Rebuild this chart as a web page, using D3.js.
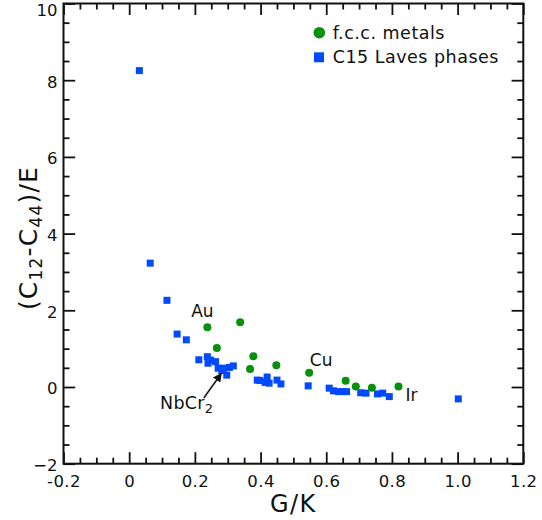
<!DOCTYPE html>
<html lang="en">
<head>
    <meta charset="UTF-8">
    <title>Elastic constants vs G/K</title>
    <script src="https://cdn.jsdelivr.net/npm/d3@7/dist/d3.min.js"></script>
    <style>
        body { margin: 0; background: #fff; }
        svg text { font-family: "DejaVu Sans", Verdana, sans-serif; fill: #111; }
        .axis line { stroke: #111; stroke-width: 1.8; }
    </style>
</head>
<body>
    <svg id="main" width="542" height="520"></svg>
    <script>
        // f.c.c. metals
        let fccGK    = [0.238, 0.338, 0.267, 0.378, 0.368, 0.448, 0.548, 0.659, 0.690, 0.739, 0.820];
        let fccRatio = [1.56, 1.69, 1.02, 0.80, 0.47, 0.57, 0.37, 0.16, 0.01, -0.02, 0.01];

        // C15 Laves phases
        let lavesGK = [0.031, 0.064, 0.115, 0.146, 0.174, 0.212, 0.238, 0.240, 0.248, 0.263,
                       0.271, 0.282, 0.287, 0.297, 0.305, 0.317, 0.390, 0.398, 0.414, 0.420,
                       0.426, 0.450, 0.462, 0.545, 0.609, 0.622, 0.637, 0.650, 0.662, 0.705,
                       0.721, 0.756, 0.772, 0.792, 1.002];
        let lavesRatio = [8.25, 3.23, 2.26, 1.38, 1.23, 0.71, 0.79, 0.62, 0.70, 0.66,
                          0.49, 0.43, 0.49, 0.31, 0.51, 0.55, 0.18, 0.17, 0.12, 0.26,
                          0.10, 0.18, 0.08, 0.03, -0.03, -0.10, -0.12, -0.12, -0.12, -0.15,
                          -0.16, -0.18, -0.16, -0.25, -0.31];

        let xTicks = [-0.2, 0, 0.2, 0.4, 0.6, 0.8, 1.0, 1.2];
        let xTickLabels = ['-0.2', '0', '0.2', '0.4', '0.6', '0.8', '1.0', '1.2'];
        let yTicks = [-2, 0, 2, 4, 6, 8, 10];

        // labelled points: [name, G/K, ratio]
        let namedPoints = [['Au', 0.238, 1.56], ['Cu', 0.548, 0.37], ['Ir', 0.820, 0.01]];
        let nbcr2 = [0.282, 0.43];

        let green = '#07900b';
        let blue = '#0049ff';

        let svg = d3.select('svg#main');
        let plot = {left: 63.5, right: 523.3, top: 3.5, bottom: 463.7};

        let xScale = d3.scaleLinear().domain([-0.2, 1.2]).range([plot.left, plot.right]);
        let yScale = d3.scaleLinear().domain([-2, 10]).range([plot.bottom, plot.top]);

        let minorX = d3.range(-0.2, 1.2001, 0.05).filter(v => Math.abs(Math.round(v * 5) - v * 5) > 1e-6);
        let minorY = d3.range(-2, 10.001, 0.5).filter(v => Math.abs(Math.round(v / 2) - v / 2) > 1e-6);

        function addAxis(axis, tx, ty) {
            let g = svg.append('g').attr('class', 'axis')
                .attr('transform', 'translate(' + tx + ',' + ty + ')')
                .call(axis);
            g.select('.domain').remove();
            return g;
        }

        // bottom
        addAxis(d3.axisBottom(xScale).tickValues(xTicks)
            .tickFormat((d, i) => xTickLabels[i]).tickSizeInner(-11.5).tickSizeOuter(0).tickPadding(12),
            0, plot.bottom)
            .selectAll('text').style('font-size', '16.5px').style('letter-spacing', '0.4px');
        addAxis(d3.axisBottom(xScale).tickValues(minorX).tickFormat('').tickSizeInner(-6).tickSizeOuter(0), 0, plot.bottom);
        // top
        addAxis(d3.axisTop(xScale).tickValues(xTicks).tickFormat('').tickSizeInner(-11.5).tickSizeOuter(0), 0, plot.top);
        addAxis(d3.axisTop(xScale).tickValues(minorX).tickFormat('').tickSizeInner(-6).tickSizeOuter(0), 0, plot.top);

        // left
        let yLeft = addAxis(d3.axisLeft(yScale).tickValues(yTicks)
            .tickFormat(d3.format('d')).tickSizeInner(-11.7).tickSizeOuter(0).tickPadding(6),
            plot.left, 0);
        yLeft.selectAll('text').style('font-size', '16.5px').attr('dy', '0.42em')
            .filter(d => d === 10).attr('dy', '0.7em');
        addAxis(d3.axisLeft(yScale).tickValues(minorY).tickFormat('').tickSizeInner(-6).tickSizeOuter(0), plot.left, 0);
        // right
        addAxis(d3.axisRight(yScale).tickValues(yTicks).tickFormat('').tickSizeInner(-11.7).tickSizeOuter(0), plot.right, 0);
        addAxis(d3.axisRight(yScale).tickValues(minorY).tickFormat('').tickSizeInner(-6).tickSizeOuter(0), plot.right, 0);

        // frame
        svg.append('rect')
            .attr('x', plot.left).attr('y', plot.top)
            .attr('width', plot.right - plot.left).attr('height', plot.bottom - plot.top)
            .attr('fill', 'none').attr('stroke', '#111').attr('stroke-width', 2);

        // axis titles
        svg.append('text')
            .attr('x', (plot.left + plot.right) / 2).attr('y', 511.7)
            .attr('text-anchor', 'middle').style('font-size', '24px').style('letter-spacing', '1.5px')
            .text('G/K');

        let yTitle = svg.append('text')
            .attr('transform', 'translate(36.5,' + 238 + ') rotate(-90)')
            .attr('text-anchor', 'middle').style('font-size', '25px').style('letter-spacing', '1.2px');
        yTitle.append('tspan').text('(C');
        yTitle.append('tspan').attr('dy', 5).style('font-size', '17px').text('12');
        yTitle.append('tspan').attr('dy', -5).text('-C');
        yTitle.append('tspan').attr('dy', 5).style('font-size', '17px').text('44');
        yTitle.append('tspan').attr('dy', -5).text(')/E');

        // data
        let lavesData = lavesGK.map((g, i) => ({x: g, y: lavesRatio[i]}));
        let fccData = fccGK.map((g, i) => ({x: g, y: fccRatio[i]}));
        let sq = 7;

        svg.append('g').selectAll('rect')
            .data(lavesData)
            .enter()
            .append('rect')
            .attr('x', d => xScale(d.x) - sq / 2)
            .attr('y', d => yScale(d.y) - sq / 2)
            .attr('width', sq).attr('height', sq)
            .attr('fill', blue);

        svg.append('g').selectAll('circle')
            .data(fccData)
            .enter()
            .append('circle')
            .attr('cx', d => xScale(d.x))
            .attr('cy', d => yScale(d.y))
            .attr('r', 4)
            .attr('fill', green);

        // point labels
        let labelOffsets = {Au: [-5, -10], Cu: [12, -7], Ir: [7, 14]};
        let labelAnchor = {Au: 'middle', Cu: 'middle', Ir: 'start'};
        svg.append('g').selectAll('text')
            .data(namedPoints)
            .enter()
            .append('text')
            .attr('x', d => xScale(d[1]) + labelOffsets[d[0]][0])
            .attr('y', d => yScale(d[2]) + labelOffsets[d[0]][1])
            .attr('text-anchor', d => labelAnchor[d[0]])
            .style('font-size', '17px')
            .text(d => d[0]);

        // NbCr2 arrow
        svg.append('defs').append('marker')
            .attr('id', 'arrow').attr('viewBox', '0 0 10 10')
            .attr('refX', 9).attr('refY', 5)
            .attr('markerWidth', 9).attr('markerHeight', 9).attr('markerUnits', 'userSpaceOnUse')
            .attr('orient', 'auto')
            .append('path').attr('d', 'M0,0 L10,5 L0,10 z').attr('fill', '#111');

        let tipX = xScale(nbcr2[0]) - 0.5, tipY = yScale(nbcr2[1]) + 3;
        svg.append('line')
            .attr('x1', tipX - 17.5).attr('y1', tipY + 24.5)
            .attr('x2', tipX).attr('y2', tipY)
            .attr('stroke', '#111').attr('stroke-width', 1.5)
            .attr('marker-end', 'url(#arrow)');

        let nb = svg.append('text')
            .attr('x', 160).attr('y', 408.5)
            .style('font-size', '17.5px').style('letter-spacing', '0.3px');
        nb.append('tspan').text('NbCr');
        nb.append('tspan').attr('dy', 4).style('font-size', '13px').text('2');

        // legend
        let legend = svg.append('g');
        legend.append('circle').attr('cx', 319.3).attr('cy', 32.7).attr('r', 5.8).attr('fill', green);
        legend.append('rect').attr('x', 314).attr('y', 52.3).attr('width', 10).attr('height', 10).attr('fill', blue);
        legend.append('text').attr('x', 332.7).attr('y', 38.5)
            .style('font-size', '17.5px').style('letter-spacing', '0.5px').text('f.c.c. metals');
        legend.append('text').attr('x', 332.7).attr('y', 63.3)
            .style('font-size', '17.5px').style('letter-spacing', '0.5px').text('C15 Laves phases');
    </script>
</body>
</html>
